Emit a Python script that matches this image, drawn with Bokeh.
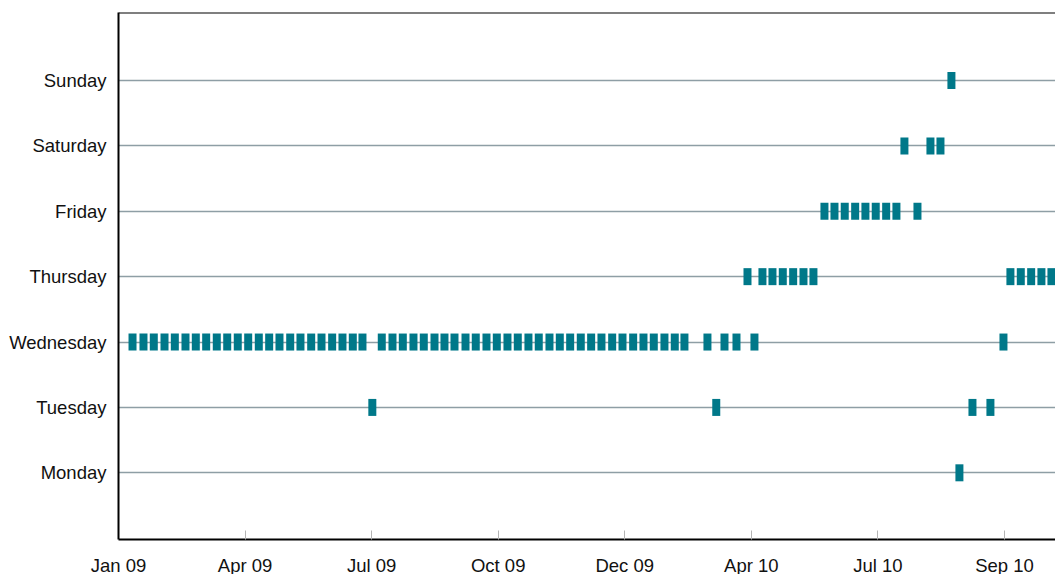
import pandas as pd
from bokeh.plotting import figure
from bokeh.models import (Range1d, FixedTicker, DatetimeTickFormatter, Span,
                          ColumnDataSource)
from bokeh.embed import file_html
from bokeh.resources import INLINE

# ---- data ----
day_names = ["Monday", "Tuesday", "Wednesday", "Thursday", "Friday", "Saturday", "Sunday"]

monday = ["2010-08-28 15:00"]
tuesday = ["2009-07-02 12:00", "2010-03-06 19:00", "2010-09-07 00:00", "2010-09-19 22:00"]
wednesday = [
    "2009-01-11 02:00", "2009-01-18 23:00", "2009-01-26 09:00", "2009-02-03 02:00",
    "2009-02-10 12:00", "2009-02-18 04:00", "2009-02-25 14:00", "2009-03-05 01:00",
    "2009-03-12 16:00", "2009-03-20 04:00", "2009-03-27 18:00", "2009-04-04 06:00",
    "2009-04-11 21:00", "2009-04-19 08:00", "2009-04-26 18:00", "2009-05-04 11:00",
    "2009-05-11 20:00", "2009-05-19 13:00", "2009-05-26 23:00", "2009-06-03 15:00",
    "2009-06-11 01:00", "2009-06-18 11:00", "2009-06-25 10:00",
    "2009-07-09 07:00", "2009-07-17 00:00", "2009-07-24 10:00", "2009-08-01 02:00",
    "2009-08-08 12:00", "2009-08-16 05:00", "2009-08-23 09:00", "2009-08-30 14:00",
    "2009-09-07 12:00", "2009-09-14 21:00", "2009-09-22 14:00", "2009-09-30 00:00",
    "2009-10-07 16:00", "2009-10-15 02:00", "2009-10-22 18:00", "2009-10-30 04:00",
    "2009-11-06 21:00", "2009-11-14 07:00", "2009-11-21 18:00", "2009-11-29 09:00",
    "2009-12-06 20:00", "2009-12-14 06:00", "2009-12-21 23:00", "2009-12-29 09:00",
    "2010-01-06 01:00", "2010-01-13 11:00", "2010-01-20 21:00", "2010-01-28 13:00",
    "2010-02-04 23:00", "2010-02-11 22:00",
    "2010-02-28 11:00", "2010-03-12 17:00", "2010-03-21 08:00", "2010-04-03 06:00",
    "2010-09-29 07:00",
]
thursday = [
    "2010-03-29 06:00", "2010-04-09 00:00", "2010-04-16 05:00", "2010-04-23 15:00",
    "2010-05-01 02:00", "2010-05-08 12:00", "2010-05-15 16:00",
    "2010-10-04 07:00", "2010-10-11 18:00", "2010-10-19 05:00", "2010-10-26 14:00",
    "2010-11-02 19:00",
]
friday = [
    "2010-05-23 14:00", "2010-05-30 19:00", "2010-06-07 04:00", "2010-06-14 16:00",
    "2010-06-22 01:00", "2010-06-29 11:00", "2010-07-06 23:00", "2010-07-14 08:00",
    "2010-07-29 11:00",
]
saturday = ["2010-07-20 02:00", "2010-08-07 19:00", "2010-08-15 00:00"]
sunday = ["2010-08-22 21:00"]

x_tick_dates = ["2009-01-01", "2009-04-02", "2009-07-02", "2009-10-01",
                "2009-12-31", "2010-04-01", "2010-07-01", "2010-09-30"]

x_start = "2009-01-01 00:00"
x_end = "2010-11-05 17:00"

# ---- build source ----
series = [monday, tuesday, wednesday, thursday, friday, saturday, sunday]
xs, ys = [], []
for i, dates in enumerate(series):
    for d in dates:
        xs.append(pd.Timestamp(d))
        ys.append(i + 1)
src = ColumnDataSource(dict(x=xs, y=ys))

FONT = "Liberation Sans"
p = figure(
    frame_width=937, frame_height=527,
    x_axis_type="datetime",
    x_range=Range1d(pd.Timestamp(x_start), pd.Timestamp(x_end)),
    y_range=Range1d(-0.02, 8.04),
    output_backend="svg", toolbar_location=None,
    min_border_left=118, min_border_right=0, min_border_top=12, min_border_bottom=0,
    title=None,
)
p.outline_line_color = None
p.background_fill_color = "white"
p.border_fill_color = "white"

p.rect(x="x", y="y", width=8, height=17, width_units="screen", height_units="screen",
       source=src, fill_color="#007889", line_color=None)

# y axis
p.yaxis.ticker = FixedTicker(ticks=list(range(1, 8)))
p.yaxis.major_label_overrides = {i + 1: n for i, n in enumerate(day_names)}
p.yaxis.major_tick_in = 0
p.yaxis.major_tick_out = 0
p.yaxis.minor_tick_in = 0
p.yaxis.minor_tick_out = 0
p.yaxis.major_label_standoff = 12
p.yaxis.axis_line_color = "black"
p.yaxis.axis_line_width = 2
p.yaxis.major_label_text_font = FONT
p.yaxis.major_label_text_font_size = "18.5px"
p.yaxis.major_label_text_color = "#111111"

# x axis
tick_ms = [pd.Timestamp(d).value / 1e6 for d in x_tick_dates]
p.xaxis.ticker = FixedTicker(ticks=tick_ms)
fmt = "%b %y"
p.xaxis.formatter = DatetimeTickFormatter(
    milliseconds=fmt, seconds=fmt, minsec=fmt, minutes=fmt, hourmin=fmt, hours=fmt,
    days=fmt, months=fmt, years=fmt)
p.xaxis.major_tick_in = 9
p.xaxis.major_tick_out = 0
p.xaxis.minor_tick_in = 0
p.xaxis.minor_tick_out = 0
p.xaxis.major_tick_line_color = "#b4b4b4"
p.xaxis.axis_line_color = "black"
p.xaxis.axis_line_width = 2
p.xaxis.major_label_standoff = 15
p.xaxis.major_label_text_font = FONT
p.xaxis.major_label_text_font_size = "18.5px"
p.xaxis.major_label_text_color = "#111111"

# grid
p.xgrid.visible = False
p.ygrid.ticker = FixedTicker(ticks=list(range(1, 8)))
p.ygrid.grid_line_color = "#8e9ea5"
p.ygrid.grid_line_width = 1.5

# top border
p.add_layout(Span(location=8.04, dimension="width", line_color="black", line_width=2))

open("out.html", "w").write(file_html(p, INLINE))
